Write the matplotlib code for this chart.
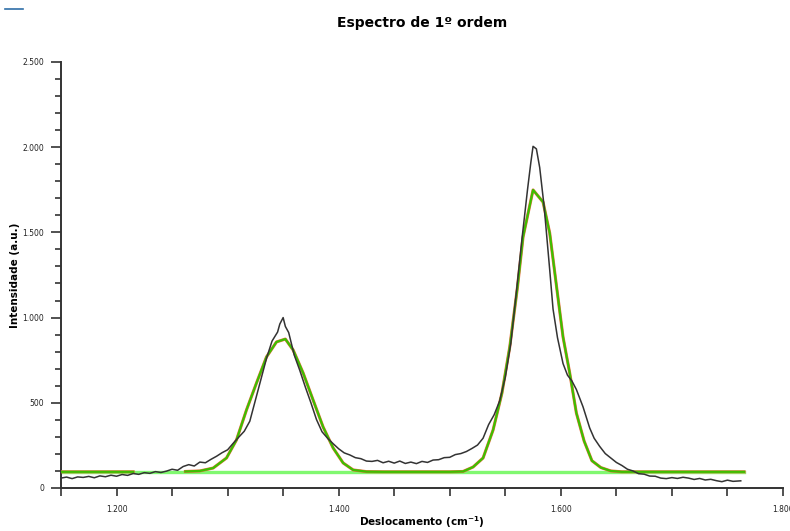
import matplotlib
matplotlib.use("Agg")
import matplotlib.pyplot as plt
import numpy as np
from matplotlib.lines import Line2D
from matplotlib.ticker import MultipleLocator, FuncFormatter

plt.rc('font', family='DejaVu Sans', size=6)

shift = [1150, 1155, 1160, 1165, 1170, 1175, 1180, 1185, 1190, 1195, 1200, 1205,
         1210, 1215, 1220, 1225, 1230, 1235, 1240, 1245, 1250, 1255, 1260, 1265,
         1270, 1275, 1280, 1285, 1290, 1295, 1300, 1305, 1310, 1315, 1320, 1325,
         1330, 1335, 1340, 1345, 1347, 1350, 1352, 1355, 1360, 1365, 1370, 1375,
         1380, 1385, 1390, 1395, 1400, 1405, 1410, 1415, 1420, 1425, 1430, 1435,
         1440, 1445, 1450, 1455, 1460, 1465, 1470, 1475, 1480, 1485, 1490, 1495,
         1500, 1505, 1510, 1515, 1520, 1525, 1530, 1535, 1540, 1545, 1550, 1555,
         1560, 1565, 1570, 1573, 1575, 1578, 1581, 1585, 1590, 1593, 1597, 1602,
         1606, 1610, 1614, 1620, 1626, 1630, 1635, 1640, 1645, 1650, 1655, 1660,
         1665, 1670, 1675, 1680, 1685, 1690, 1695, 1700, 1705, 1710, 1715, 1720,
         1725, 1730, 1735, 1740, 1745, 1750, 1755, 1762]
intensity = [58, 64, 55, 65, 62, 68, 60, 71, 66, 75, 69, 79, 74, 85, 80, 90, 86,
             96, 91, 99, 110, 104, 126, 137, 129, 152, 148, 168, 186, 207, 224, 262,
             298, 333, 392, 515, 640, 760, 862, 915, 962, 1000, 948, 912, 780, 690,
             592, 500, 402, 330, 292, 260, 230, 206, 194, 178, 172, 158, 156, 162,
             148, 157, 146, 158, 144, 152, 143, 156, 150, 164, 166, 178, 180, 196,
             202, 214, 232, 252, 292, 372, 430, 512, 650, 850, 1150, 1460, 1750,
             1910, 2005, 1990, 1880, 1650, 1280, 1050, 882, 730, 662, 628, 578,
             476, 352, 292, 244, 202, 176, 150, 132, 110, 100, 84, 81, 70, 69, 58,
             55, 61, 56, 63, 58, 50, 56, 47, 51, 43, 37, 46, 39, 42]

# fitted curve (coarse), gap where the original fit line is not drawn
fit_x = [1150, 1215, 1240, 1262, 1275, 1287, 1299, 1308, 1317, 1326, 1335, 1344,
         1352, 1359, 1368, 1377, 1386, 1395, 1404, 1413, 1425, 1440, 1460, 1480,
         1500, 1512, 1521, 1530, 1539, 1547, 1554, 1561, 1566, 1575, 1584, 1590,
         1596, 1602, 1608, 1614, 1621, 1628, 1636, 1645, 1655, 1700, 1765]
fit_y = [95, 95, np.nan, 97, 100, 117, 176, 282, 458, 616, 769, 857,
         874, 810, 675, 516, 358, 235, 147, 106, 96, 95, 95, 95,
         95, 97, 123, 176, 340, 557, 827, 1180, 1473, 1749, 1678, 1496,
         1190, 886, 675, 440, 275, 160, 120, 100, 95, 95, 95]

base_x = [1150, 1765]
base_y = [95, 95]

fig = plt.figure(figsize=(7.9, 5.31), dpi=100)
ax = fig.add_axes([0.0772, 0.081, 0.9139, 0.8023])

ax.plot(base_x, base_y, color="#80f870", linewidth=2.4, zorder=2)
ax.plot(fit_x, fit_y, color="#f0704a", linewidth=2.2, zorder=3)
ax.plot(fit_x, fit_y, color="#3cc000", linewidth=1.6, zorder=4)
ax.plot(shift, intensity, color="#333333", linewidth=1.1, zorder=5)

ax.set_xlim(1150, 1800)
ax.set_ylim(0, 2500)

for s in ["top", "right"]:
    ax.spines[s].set_visible(False)
for s in ["left", "bottom"]:
    ax.spines[s].set_color("#333333")
    ax.spines[s].set_linewidth(1.4)

fmt = FuncFormatter(lambda v, p: f"{v:,.0f}".replace(",", "."))
ax.xaxis.set_major_locator(MultipleLocator(200))
ax.xaxis.set_minor_locator(MultipleLocator(50))
ax.yaxis.set_major_locator(MultipleLocator(500))
ax.yaxis.set_minor_locator(MultipleLocator(100))
ax.xaxis.set_major_formatter(fmt)
ax.yaxis.set_major_formatter(fmt)
ax.tick_params(axis="x", which="both", length=5.5, width=1.2, color="#333333", pad=7)
ax.tick_params(axis="y", which="major", length=7, width=1.2, color="#333333", pad=5)
ax.tick_params(axis="y", which="minor", length=4.5, width=1.2, color="#333333")
ax.tick_params(labelsize=5.5, labelcolor="#222222")

ax.set_title("Espectro de 1º ordem", fontsize=10, fontweight="bold", pad=25)
ax.set_xlabel("Deslocamento (cm$^{\\mathbf{-1}}$)", fontsize=7.5, fontweight="bold", labelpad=0)
ax.set_ylabel("Intensidade (a.u.)", fontsize=7.5, fontweight="bold", labelpad=2)

# empty legend left in the corner of the original
fig.legend(handles=[Line2D([], [], color="#2f6ea8", linewidth=1.2)], labels=[""],
           loc="upper left", bbox_to_anchor=(0.0, 1.0), frameon=False,
           handlelength=2.2, borderaxespad=0.2)

plt.savefig("out.png", dpi=100)
